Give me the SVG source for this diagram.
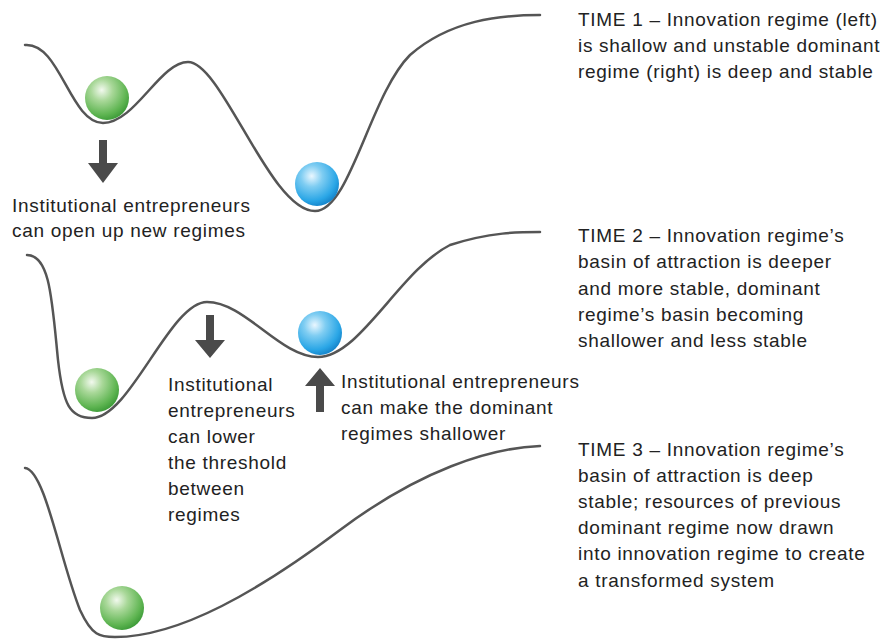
<svg xmlns="http://www.w3.org/2000/svg" width="882" height="639" viewBox="0 0 882 639">
  <style>
    .lbl { font-family: "Liberation Sans", Arial, sans-serif; font-size: 19px; letter-spacing: 0.7px; fill: #222; }
    .land { fill: none; stroke: #555; stroke-width: 2.5; stroke-linecap: round; }
    .arrow { fill: #4a4a4a; }
  </style>
  <defs>
    <radialGradient id="gGreen" cx="0.38" cy="0.32" r="0.7">
      <stop offset="0" stop-color="#f2f9ee"/>
      <stop offset="0.35" stop-color="#a9d899"/>
      <stop offset="0.8" stop-color="#5fb552"/>
      <stop offset="1" stop-color="#3f9d3a"/>
    </radialGradient>
    <radialGradient id="gBlue" cx="0.38" cy="0.32" r="0.7">
      <stop offset="0" stop-color="#eaf7ff"/>
      <stop offset="0.35" stop-color="#7fcdf2"/>
      <stop offset="0.8" stop-color="#2aa6e6"/>
      <stop offset="1" stop-color="#1686cc"/>
    </radialGradient>
  </defs>

  <rect width="882" height="639" fill="#ffffff"/>

  <!-- landscape curves and arrows -->
  <g id="connectors">
    <path class="land" d="M25,45 C60,42 70,123 103,123 C135,123 160,62 188,62 C222,62 270,211 315,211 C350,211 370,95 410,55 C450,20 500,15 540,15"/>
    <path class="land" d="M27,255 C50,255 52,300 58,360 C63,405 70,418 92,418 C130,418 170,302 207,302 C245,302 280,357 318,357 C360,357 400,270 450,245 C490,232 520,232 540,232"/>
    <path class="land" d="M25,468 C45,470 60,560 80,610 C92,636 100,637 115,637 C180,637 260,590 340,530 C420,470 490,448 540,446"/>

    <path class="arrow" d="M99,140 H107 V163 H118 L103,183 L88,163 H99 Z"/>
    <path class="arrow" d="M206,315 H214 V340 H225 L210,358 L195,340 H206 Z"/>
    <path class="arrow" d="M316,412 H324 V386 H335 L320,368 L305,386 H316 Z"/>
  </g>

  <!-- balls -->
  <g id="ball-green-1"><circle cx="107" cy="98" r="22" fill="url(#gGreen)"/></g>
  <g id="ball-blue-1"><circle cx="317" cy="184" r="22" fill="url(#gBlue)"/></g>
  <g id="ball-green-2"><circle cx="97" cy="390" r="22" fill="url(#gGreen)"/></g>
  <g id="ball-blue-2"><circle cx="320" cy="333" r="22" fill="url(#gBlue)"/></g>
  <g id="ball-green-3"><circle cx="122" cy="608" r="22" fill="url(#gGreen)"/></g>

  <!-- annotations -->
  <g id="note-open">
    <text class="lbl" x="12" y="212">Institutional entrepreneurs</text>
    <text class="lbl" x="12" y="237">can open up new regimes</text>
  </g>
  <g id="note-threshold">
    <text class="lbl" x="168" y="391">Institutional</text>
    <text class="lbl" x="168" y="417">entrepreneurs</text>
    <text class="lbl" x="168" y="443">can lower</text>
    <text class="lbl" x="168" y="469">the threshold</text>
    <text class="lbl" x="168" y="495">between</text>
    <text class="lbl" x="168" y="521">regimes</text>
  </g>
  <g id="note-shallower">
    <text class="lbl" x="341" y="388">Institutional entrepreneurs</text>
    <text class="lbl" x="341" y="414">can make the dominant</text>
    <text class="lbl" x="341" y="440">regimes shallower</text>
  </g>

  <g id="time-1">
    <text class="lbl" x="578" y="26">TIME 1 – Innovation regime (left)</text>
    <text class="lbl" x="578" y="52">is shallow and unstable dominant</text>
    <text class="lbl" x="578" y="78">regime (right) is deep and stable</text>
  </g>
  <g id="time-2">
    <text class="lbl" x="578" y="242">TIME 2 – Innovation regime’s</text>
    <text class="lbl" x="578" y="268">basin of attraction is deeper</text>
    <text class="lbl" x="578" y="295">and more stable, dominant</text>
    <text class="lbl" x="578" y="321">regime’s basin becoming</text>
    <text class="lbl" x="578" y="347">shallower and less stable</text>
  </g>
  <g id="time-3">
    <text class="lbl" x="578" y="456">TIME 3 – Innovation regime’s</text>
    <text class="lbl" x="578" y="482">basin of attraction is deep</text>
    <text class="lbl" x="578" y="508">stable; resources of previous</text>
    <text class="lbl" x="578" y="534">dominant regime now drawn</text>
    <text class="lbl" x="578" y="560">into innovation regime to create</text>
    <text class="lbl" x="578" y="587">a transformed system</text>
  </g>
</svg>
